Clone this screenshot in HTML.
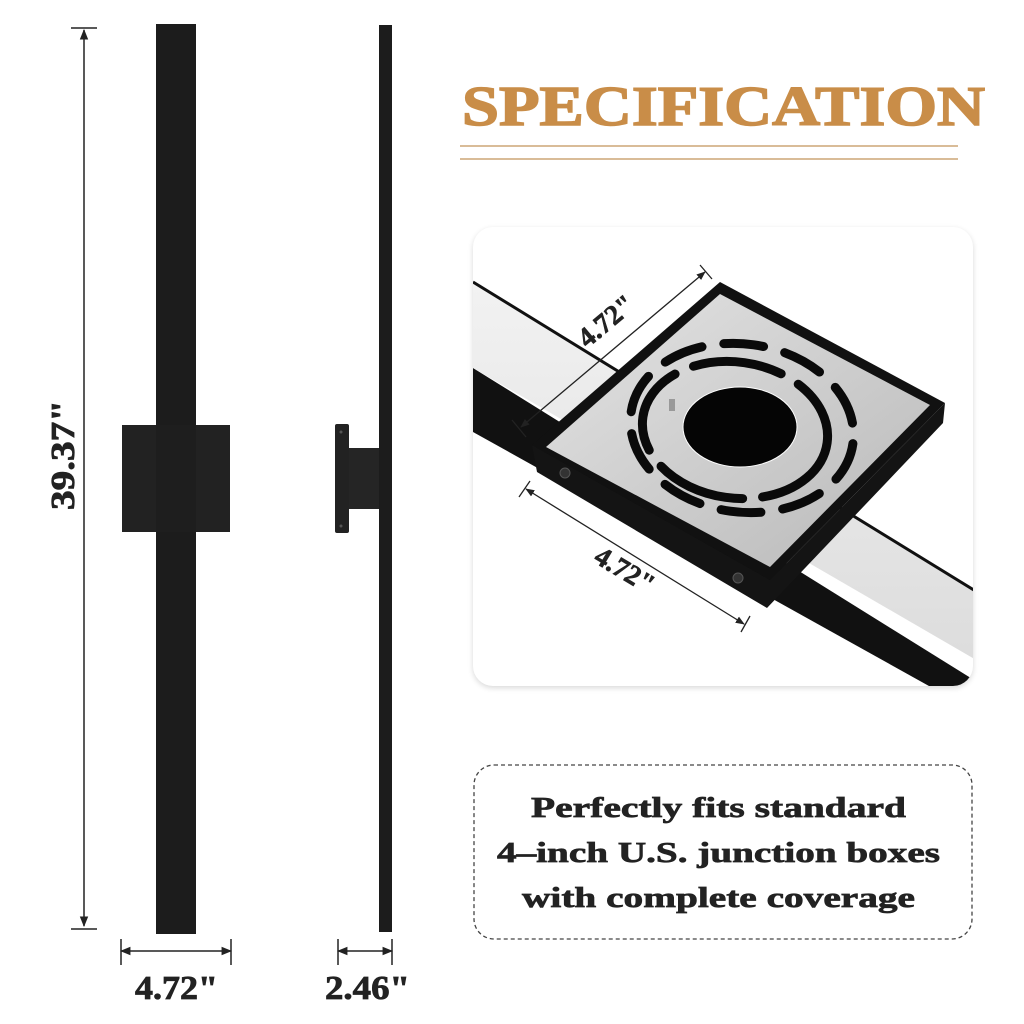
<!DOCTYPE html>
<html><head><meta charset="utf-8"><style>
html,body{margin:0;padding:0;background:#fff;}
svg{display:block}
</style></head><body>
<svg width="1024" height="1024" viewBox="0 0 1024 1024" xmlns="http://www.w3.org/2000/svg" font-family="'Liberation Serif',serif">
<defs>
<linearGradient id="sil" x1="0" y1="0" x2="1" y2="1"><stop offset="0" stop-color="#e4e4e4"/><stop offset="1" stop-color="#b8b8b8"/></linearGradient>
<linearGradient id="bar" x1="0" y1="0" x2="0" y2="1"><stop offset="0" stop-color="#f2f2f2"/><stop offset="1" stop-color="#dcdcdc"/></linearGradient>
<clipPath id="card"><rect x="473" y="227" width="500" height="459" rx="20"/></clipPath>
<filter id="sh" x="-5%" y="-5%" width="110%" height="110%"><feGaussianBlur stdDeviation="3"/></filter>
<marker id="ar" viewBox="0 0 10 10" refX="9" refY="5" markerWidth="7" markerHeight="7" orient="auto-start-reverse"><path d="M0,1 L10,5 L0,9 z" fill="#222"/></marker>
</defs>

<rect x="156" y="24" width="40" height="910" fill="#1c1c1c"/>
<rect x="122" y="425" width="108" height="107" fill="#222"/>
<rect x="156" y="425" width="40" height="107" fill="#1e1e1e"/>
<rect x="379" y="25" width="13" height="907" fill="#1c1c1c"/>
<rect x="335" y="424" width="14" height="109" rx="2" fill="#222"/>
<rect x="349" y="448" width="30" height="61" fill="#252525"/>
<circle cx="341" cy="432" r="1.5" fill="#555"/><circle cx="341" cy="526" r="1.5" fill="#555"/>

<g stroke="#222" stroke-width="1.5">
<line x1="84" y1="30" x2="84" y2="926" marker-start="url(#ar)" marker-end="url(#ar)"/>
<line x1="71" y1="28" x2="97" y2="28"/><line x1="71" y1="929" x2="97" y2="929"/>
<line x1="121" y1="951" x2="231" y2="951" marker-start="url(#ar)" marker-end="url(#ar)"/>
<line x1="121" y1="939" x2="121" y2="965"/><line x1="231" y1="939" x2="231" y2="965"/>
<line x1="338" y1="951" x2="392" y2="951" marker-start="url(#ar)" marker-end="url(#ar)"/>
<line x1="338" y1="939" x2="338" y2="965"/><line x1="392" y1="939" x2="392" y2="965"/>
</g>
<g font-weight="bold" fill="#222" stroke="#222" stroke-width="0.8">
<text transform="translate(74,455) rotate(-90)" text-anchor="middle" font-size="34" textLength="110" lengthAdjust="spacingAndGlyphs">39.37"</text>
<text x="135" y="999" font-size="34" textLength="83" lengthAdjust="spacingAndGlyphs">4.72"</text>
<text x="325" y="999" font-size="34" textLength="85" lengthAdjust="spacingAndGlyphs">2.46"</text>
</g>

<text x="462" y="125" font-size="56" font-weight="bold" fill="#c98d48" stroke="#c98d48" stroke-width="1.5" textLength="523" lengthAdjust="spacingAndGlyphs">SPECIFICATION</text>
<line x1="460" y1="146" x2="958" y2="146" stroke="#d9bc98" stroke-width="2"/>
<line x1="460" y1="159" x2="958" y2="159" stroke="#d9bc98" stroke-width="2"/>

<rect x="473" y="229" width="500" height="459" rx="20" fill="#000" opacity="0.15" filter="url(#sh)"/>
<rect x="473" y="227" width="500" height="459" rx="20" fill="#fff"/>
<g clip-path="url(#card)">
<polygon points="473,368 990,690 990,720 473,432" fill="#111"/>
<polygon points="473,282 990,600 990,668 473,368" fill="url(#bar)"/>
<line x1="473" y1="282" x2="990" y2="600" stroke="#111" stroke-width="3"/>
<polygon points="532,445 770,580 945,403 943,423 767,608 537,472" fill="#141414"/>
<polygon points="720,282 945,403 770,580 532,445" fill="#111"/>
<polygon points="720,294 930,405 770,567 546,447" fill="url(#sil)"/>
<g fill="none" stroke="#0a0a0a" stroke-width="9" stroke-linecap="round">
<ellipse cx="742" cy="428" rx="112" ry="84" stroke-dasharray="40 22" transform="rotate(8 742 428)"/>
<ellipse cx="735" cy="430" rx="93" ry="68" stroke-dasharray="90 20" transform="rotate(8 735 430)"/>
</g>
<ellipse cx="740" cy="427" rx="57" ry="40" fill="#050505" stroke="#fff" stroke-width="1"/>
<rect x="669" y="399" width="6" height="12" fill="#999"/>
<circle cx="565" cy="473" r="5" fill="#333" stroke="#555"/>
<circle cx="738" cy="578" r="5" fill="#333" stroke="#555"/>
<g stroke="#222" stroke-width="1.3">
<line x1="521" y1="427" x2="705" y2="272" marker-start="url(#ar)" marker-end="url(#ar)"/>
<line x1="512" y1="420" x2="526" y2="437"/><line x1="700" y1="265" x2="712" y2="279"/>
<line x1="526" y1="489" x2="744" y2="624" marker-start="url(#ar)" marker-end="url(#ar)"/>
<line x1="519" y1="497" x2="530" y2="481"/><line x1="741" y1="632" x2="750" y2="616"/>
</g>
<g font-weight="bold" fill="#222" stroke="#222" stroke-width="0.6" font-size="28">
<text transform="translate(612,328) rotate(-40)" text-anchor="middle">4.72"</text>
<text transform="translate(620,578) rotate(31)" text-anchor="middle">4.72"</text>
</g>
</g>

<rect x="474" y="765" width="498" height="174" rx="20" fill="#fff" stroke="#444" stroke-width="1.3" stroke-dasharray="4 3"/>
<g font-size="29" font-weight="bold" fill="#222" stroke="#222" stroke-width="0.7" lengthAdjust="spacingAndGlyphs">
<text x="531" y="817" textLength="375" lengthAdjust="spacingAndGlyphs">Perfectly fits standard</text>
<text x="497" y="862" textLength="443" lengthAdjust="spacingAndGlyphs">4–inch U.S. junction boxes</text>
<text x="522" y="907" textLength="393" lengthAdjust="spacingAndGlyphs">with complete coverage</text>
</g>
</svg>
</body></html>
